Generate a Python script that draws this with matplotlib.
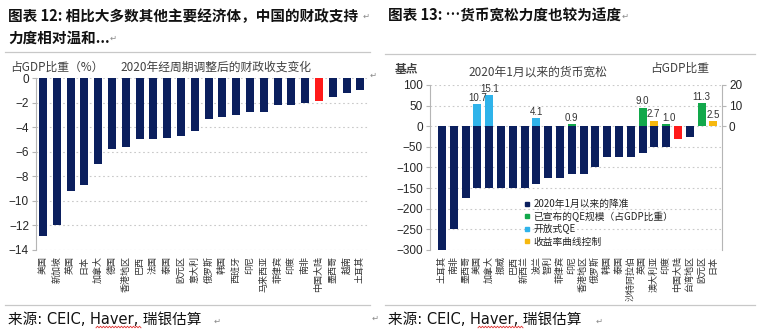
import matplotlib
matplotlib.use("Agg")
import matplotlib.pyplot as plt
import numpy as np
from matplotlib.lines import Line2D

plt.rcParams['font.family'] = ['Noto Sans CJK SC', 'DejaVu Sans']

W, H = 759, 334
NAN = np.nan

# ---- Chart 12: cyclically adjusted fiscal balance change in 2020 (% of GDP)
fiscal_countries = ['美国', '新加坡', '英国', '日本', '加拿大', '德国', '香港地区', '巴西',
                    '法国', '泰国', '欧元区', '意大利', '俄罗斯', '韩国', '西班牙', '印尼',
                    '马来西亚', '菲律宾', '印度', '南非', '中国大陆', '墨西哥', '越南', '土耳其']
fiscal_values = [-12.9, -12.0, -9.2, -8.7, -7.0, -5.75, -5.65, -5.0, -5.0, -4.9, -4.7, -4.35,
                 -3.35, -3.2, -3.0, -2.8, -2.8, -2.2, -2.2, -2.05, -1.85, -1.55, -1.25, -1.0]
highlight = '中国大陆'

# ---- Chart 13: monetary easing since January 2020
easing_countries = ['土耳其', '南非', '墨西哥', '美国', '加拿大', '挪威', '巴西', '新西兰',
                    '波兰', '智利', '菲律宾', '印尼', '香港地区', '俄罗斯', '韩国', '泰国',
                    '沙特阿拉伯', '英国', '澳大利亚', '印度', '中国大陆', '台湾地区', '欧元区', '日本']
rate_cuts_bp = [-300, -250, -175, -150, -150, -150, -150, -150, -140, -125, -125, -115,
                -115, -100, -75, -75, -75, -65, -50, -50, -30, -25, 0, 0]
qe_announced = [NAN, NAN, NAN, NAN, NAN, NAN, NAN, NAN, NAN, NAN, NAN, 0.9,
                NAN, NAN, NAN, NAN, NAN, 9.0, NAN, 1.0, NAN, NAN, 11.3, NAN]
qe_open_ended = [NAN, NAN, NAN, 10.7, 15.1, NAN, NAN, NAN, 4.1, NAN, NAN, NAN,
                 NAN, NAN, NAN, NAN, NAN, NAN, NAN, NAN, NAN, NAN, NAN, NAN]
yield_curve_control = [NAN, NAN, NAN, NAN, NAN, NAN, NAN, NAN, NAN, NAN, NAN, NAN,
                       NAN, NAN, NAN, NAN, NAN, NAN, 2.7, NAN, NAN, NAN, NAN, 2.5]

NAVY = '#0b1f5e'
RED = '#ff1a1a'
GREEN = '#12a84b'
LIGHT_BLUE = '#2fb3ea'
GOLD = '#f6b80f'
GRID = '#c9c9c9'
SPINE = '#b5b5b5'
TXT = '#262626'
NUM_FONT = ['Liberation Sans', 'DejaVu Sans']
SOURCE_FONT = ['DejaVu Sans', 'Noto Sans CJK SC']


def fx(x):
    return x / W


def fy(y):
    return 1 - y / H


fig = plt.figure(figsize=(W / 100, H / 100), dpi=100)
fig.patch.set_facecolor('white')


def ftext(x, y, s, **kw):
    fig.text(fx(x), fy(y), s, **kw)


def hline(x0, x1, y, color='#c8c8c8', lw=0.9):
    fig.add_artist(Line2D([fx(x0), fx(x1)], [fy(y), fy(y)], color=color, lw=lw,
                          transform=fig.transFigure))


def wavy_underline(x0, x1, y):
    xs = np.arange(x0, x1 + 0.1, 1.5)
    ys = y + 0.8 * np.where(np.arange(len(xs)) % 2 == 0, 1, -1)
    fig.add_artist(Line2D(fx(xs), fy(ys), color='#e03030', lw=0.6,
                          transform=fig.transFigure))


def return_mark(x, y):
    ftext(x, y, '\u21b5', fontsize=6, color='#8a8a8a', va='center', ha='left',
          family=['DejaVu Sans'])


def style_axes(ax):
    for side in ('top', 'bottom'):
        ax.spines[side].set_visible(False)
    ax.spines['left'].set_color(SPINE)
    ax.spines['right'].set_color(SPINE)
    ax.grid(axis='y', linestyle=(0, (1.5, 2.5)), color=GRID, lw=0.8)
    ax.set_axisbelow(True)
    ax.tick_params(axis='y', length=3, width=0.8, color=SPINE, labelsize=8.5,
                   labelcolor=TXT, pad=2)
    for t in ax.get_yticklabels():
        t.set_family(NUM_FONT)
    ax.tick_params(axis='x', length=0, pad=4, labelsize=6.5, labelcolor='#333333')


# ---------------- Left panel ----------------
ftext(8, 16, '图表 12: 相比大多数其他主要经济体，中国的财政支持', fontsize=10.5,
      fontweight='bold', color='#111111', va='center', ha='left')
ftext(8, 38, '力度相对温和...', fontsize=10.5, fontweight='bold', color='#111111',
      va='center', ha='left')
return_mark(363, 16)
return_mark(110, 38)
hline(5, 370, 52)

ftext(10, 67, '占GDP比重（%）', fontsize=8.5, color='#404040', va='center', ha='left')
ftext(120, 67, '2020年经周期调整后的财政收支变化', fontsize=8.5, color='#404040',
      va='center', ha='left')
return_mark(370, 75)

ax1 = fig.add_axes([fx(36), fy(250), (368 - 36) / W, (250 - 78) / H])
pos1 = np.arange(len(fiscal_values))
colors1 = [RED if c == highlight else NAVY for c in fiscal_countries]
ax1.bar(pos1, fiscal_values, width=0.58, color=colors1, zorder=3)
ax1.set_ylim(-14, 0)
ax1.set_yticks(np.arange(-14, 1, 2))
ax1.set_xlim(-0.51, 23.55)
ax1.set_xticks(pos1)
ax1.set_xticklabels(fiscal_countries, rotation=90, va='top', ha='center')
ax1.spines['right'].set_visible(False)
style_axes(ax1)

hline(5, 370, 305)
ftext(8, 320, '来源: CEIC, Haver, 瑞银估算', fontsize=10.5, color='#111111',
      va='center', ha='left', family=SOURCE_FONT)
wavy_underline(96, 141, 327)
return_mark(214, 321)
return_mark(372, 318)

# ---------------- Right panel ----------------
ftext(388, 16, '图表 13: \u2026货币宽松力度也较为适度', fontsize=10.5, fontweight='bold',
      color='#111111', va='center', ha='left')
return_mark(622, 16)
hline(385, 755, 54)

ftext(395, 69, '基点', fontsize=8.5, fontweight='bold', color='#404040', va='center',
      ha='left')
ftext(538, 72, '2020年1月以来的货币宽松', fontsize=8.5, color='#404040', va='center',
      ha='center')
ftext(680, 68, '占GDP比重', fontsize=8.5, color='#404040', va='center', ha='center')

ax2 = fig.add_axes([fx(430), fy(250), (722 - 430) / W, (250 - 85) / H])
pos2 = np.arange(len(rate_cuts_bp))
colors2 = [RED if c == highlight else NAVY for c in easing_countries]
bw = 0.68
ax2.bar(pos2, rate_cuts_bp, width=bw, color=colors2, zorder=3)
ax2.set_ylim(-300, 100)
ax2.set_yticks(np.arange(-300, 101, 50))
ax2.set_xlim(-1.02, 23.73)
ax2.set_xticks(pos2)
ax2.set_xticklabels(easing_countries, rotation=90, va='top', ha='center')
style_axes(ax2)
ax2.spines['right'].set_visible(False)

ax2b = ax2.twinx()
ax2b.set_ylim(-60, 20)
ax2b.set_yticks([0, 10, 20])
for side in ('top', 'bottom', 'left'):
    ax2b.spines[side].set_visible(False)
ax2b.spines['right'].set_color(SPINE)
ax2b.tick_params(axis='y', length=3, width=0.8, color=SPINE, labelsize=8.5,
                 labelcolor=TXT, pad=2)
for t in ax2b.get_yticklabels():
    t.set_family(NUM_FONT)

for series, col in ((qe_announced, GREEN), (qe_open_ended, LIGHT_BLUE),
                    (yield_curve_control, GOLD)):
    vals = np.asarray(series, dtype=float)
    mask = ~np.isnan(vals)
    ax2b.bar(pos2[mask], vals[mask], width=bw, color=col, zorder=3)
    for p, v in zip(pos2[mask], vals[mask]):
        # neighbouring labels (2.7 / 1.0) sit very close: nudge them apart
        dx = 0.0
        if p == 18:
            dx = -0.12
        elif p == 19:
            dx = 0.22
        ax2b.text(p + dx, v + 0.6, f'{v:.1f}', ha='center', va='bottom', fontsize=7,
                  color='#333333', family=NUM_FONT)

handles = [Line2D([], [], marker='s', ls='none', color=c, markersize=3.5)
           for c in (NAVY, GREEN, LIGHT_BLUE, GOLD)]
labels = ['2020年1月以来的降准', '已宣布的QE规模（占GDP比重）', '开放式QE', '收益率曲线控制']
fig.legend(handles, labels, loc='upper left', bbox_to_anchor=(fx(524), fy(199)),
           frameon=False, fontsize=7, labelspacing=0.25, handlelength=0.6,
           handletextpad=0.35, borderpad=0, borderaxespad=0, labelcolor='#222222')

hline(385, 755, 305)
ftext(388, 320, '来源: CEIC, Haver, 瑞银估算', fontsize=10.5, color='#111111',
      va='center', ha='left', family=SOURCE_FONT)
wavy_underline(478, 523, 327)
return_mark(596, 321)

fig.savefig('out.png', dpi=100)
